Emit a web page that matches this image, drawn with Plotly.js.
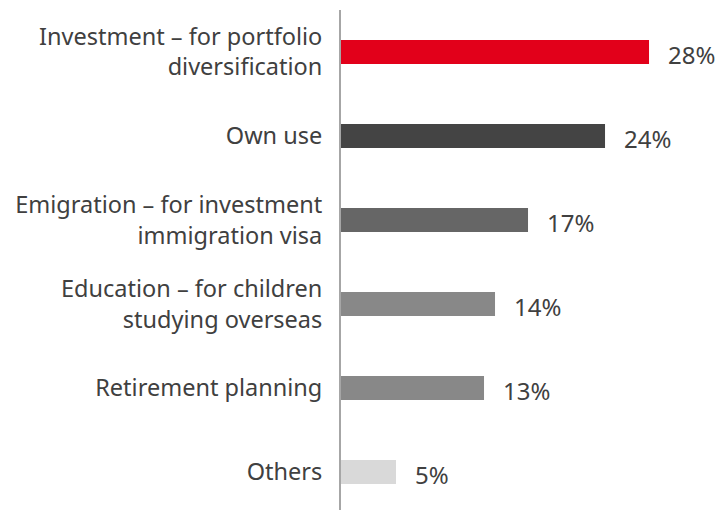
<!DOCTYPE html>
<html><head><meta charset="utf-8">
<script src="https://cdn.plot.ly/plotly-3.0.1.min.js"></script>
<style>html,body{margin:0;padding:0;background:#fff}#chart{width:719px;height:510px}</style>
</head><body><div id="chart"></div>
<script>
const categories = [
  "Investment – for portfolio<br>diversification",
  "Own use",
  "Emigration – for investment<br>immigration visa",
  "Education – for children<br>studying overseas",
  "Retirement planning",
  "Others"
];
const values = [28, 24, 17, 14, 13, 5];
const valueLabels = ["28%", "24%", "17%", "14%", "13%", "5%"];
const barColors = ["#E2001A", "#444444", "#666666", "#888888", "#888888", "#D9D9D9"];

const FONT = "'Noto Sans', 'Source Sans Pro', sans-serif";
const idx = categories.map((c, i) => i);

const trace = {
  type: "bar",
  orientation: "h",
  x: values,
  y: idx,
  marker: {color: barColors},
  width: 0.286,
  hoverinfo: "none",
  cliponaxis: false
};

const annotations = values.map((v, i) => ({
  x: v, y: i, xref: "x", yref: "y",
  text: valueLabels[i], showarrow: false,
  xanchor: "left", yanchor: "middle", xshift: 17, yshift: -2,
  font: {family: FONT, size: 24, color: "#404040"}
}));

const layout = {
  width: 719, height: 510,
  margin: {l: 341, r: 0, t: 10, b: 0},
  paper_bgcolor: "#fff", plot_bgcolor: "#fff",
  showlegend: false,
  xaxis: {range: [0, 34.36], visible: false, fixedrange: true},
  yaxis: {
    range: [5.452, -0.5],
    tickmode: "array", tickvals: idx, ticktext: categories,
    showline: true, linecolor: "#A6A6A6", linewidth: 2,
    showgrid: false, zeroline: false, ticks: "",
    ticklabelstandoff: 12,
    tickfont: {family: FONT, size: 23.5, color: "#404040"}
  },
  annotations: annotations
};

Plotly.newPlot("chart", [trace], layout, {staticPlot: true, displayModeBar: false});
</script></body></html>
